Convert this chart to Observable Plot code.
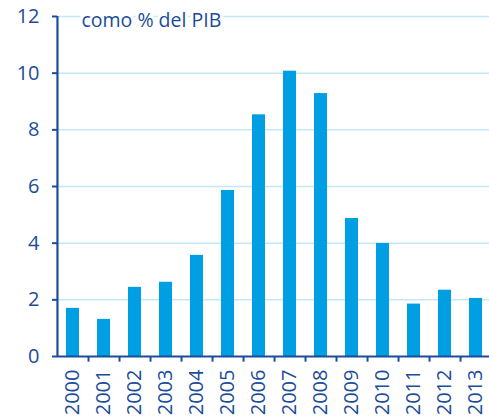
<!DOCTYPE html>
<html>
<head>
<meta charset="utf-8">
<script src="https://cdn.jsdelivr.net/npm/d3@7"></script>
<script src="https://cdn.jsdelivr.net/npm/@observablehq/plot@0.6"></script>
<style>
  html, body { margin: 0; padding: 0; background: #fff; }
  #chart svg { display: block; }
</style>
</head>
<body>
<div id="chart"></div>
<script>
const years = ["2000","2001","2002","2003","2004","2005","2006","2007","2008","2009","2010","2011","2012","2013"];
const values = [1.70, 1.31, 2.44, 2.62, 3.57, 5.86, 8.53, 10.07, 9.28, 4.87, 3.99, 1.85, 2.34, 2.05];
const yTicks = [0, 2, 4, 6, 8, 10, 12];
const unitLabel = "como % del PIB";

const data = years.map((y, i) => ({year: y, value: values[i]}));

const W = 489, H = 419, mL = 57, mR = -3, mT = 16, mB = 63;
const axisColor = "#1b4d99";
const barColor = "#009fe3";
const gridColor = "#c4e8f8";
const font = "'Open Sans', 'Noto Sans', sans-serif";
const step = (W - mL - mR) / years.length;

const chart = Plot.plot({
  width: W,
  height: H,
  marginLeft: mL,
  marginRight: mR,
  marginTop: mT,
  marginBottom: mB,
  style: {fontFamily: font, background: "#fff", color: axisColor, overflow: "visible"},
  x: {domain: years, paddingInner: 0.58, paddingOuter: 0.29, align: 0.5},
  y: {domain: [0, 12], ticks: yTicks},
  marks: [
    Plot.gridY(yTicks.filter(d => d > 0), {stroke: gridColor, strokeOpacity: 1, strokeWidth: 1.5}),
    Plot.barY(data, {x: "year", y: "value", fill: barColor}),
    Plot.ruleY([0], {stroke: axisColor, strokeWidth: 2.2}),
    Plot.ruleX([0], {x: () => years[0], dx: -step / 2, y1: 0, y2: 12, stroke: axisColor, strokeWidth: 2.2}),
    Plot.ruleX(years, {x: d => d, dx: step / 2, y1: 0, y2: -0.2, stroke: axisColor, strokeWidth: 2}),
    Plot.axisY({ticks: yTicks, tickSize: 5, tickPadding: 13, stroke: axisColor, strokeWidth: 2, fontSize: 20, fill: axisColor, label: null}),
    Plot.axisX({tickSize: 0, tickPadding: 13, tickRotate: -90, fontSize: 20, fill: axisColor, label: null}),
    Plot.text([unitLabel], {frameAnchor: "top-left", dx: 24, dy: 4, text: d => d, fontSize: 19.5, fill: axisColor, stroke: "white", strokeWidth: 6, paintOrder: "stroke", textAnchor: "start", lineAnchor: "middle"})
  ]
});
document.getElementById("chart").appendChild(chart);
</script>
</body>
</html>
